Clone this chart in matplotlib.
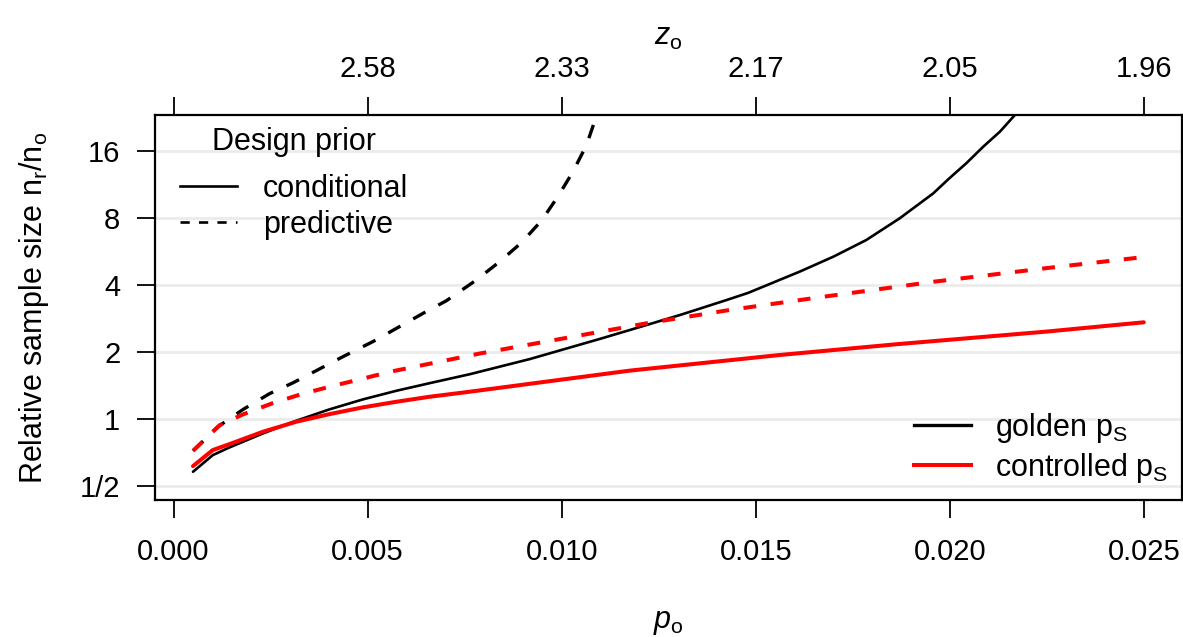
import numpy as np
import matplotlib.pyplot as plt
from matplotlib.lines import Line2D

plt.rcParams['font.family'] = ['Liberation Sans', 'DejaVu Sans']
plt.rcParams['mathtext.fontset'] = 'custom'
plt.rcParams['mathtext.rm'] = 'Liberation Sans'
plt.rcParams['mathtext.it'] = 'Liberation Sans:italic'
plt.rcParams['font.size'] = 22

# golden p_S, conditional design prior
p_gold_cond = [0.0005, 0.00101, 0.00144, 0.0023, 0.00316, 0.00402, 0.00488, 0.00574,
               0.0066, 0.00763, 0.00918, 0.01098, 0.01175, 0.01304, 0.01424, 0.01481,
               0.01613, 0.017, 0.01785, 0.01871, 0.01957, 0.02, 0.02043, 0.02086,
               0.02129, 0.02168]
n_gold_cond = [0.58, 0.689, 0.746, 0.862, 0.983, 1.106, 1.226, 1.34,
               1.45, 1.59, 1.86, 2.29, 2.51, 2.93, 3.42, 3.69,
               4.59, 5.36, 6.37, 7.97, 10.3, 12.1, 14.1, 16.7,
               19.5, 23.2]

# golden p_S, predictive design prior
p_gold_pred = [0.0005, 0.00114, 0.00179, 0.00247, 0.00308, 0.00436, 0.00514, 0.00582,
               0.00651, 0.00703, 0.0078, 0.0084, 0.00896, 0.00948, 0.0099, 0.01029,
               0.01064, 0.01089]
n_gold_pred = [0.72, 0.923, 1.105, 1.30, 1.456, 1.905, 2.23, 2.60,
               3.04, 3.40, 4.21, 5.09, 6.19, 7.78, 9.97, 12.9,
               17.0, 22.8]

# controlled p_S, conditional design prior
p_ctrl_cond = [0.0005, 0.00101, 0.00144, 0.0023, 0.00316, 0.00402, 0.00488, 0.00574,
               0.0066, 0.00763, 0.01175, 0.01562, 0.01865, 0.02248, 0.025]
n_ctrl_cond = [0.615, 0.726, 0.772, 0.877, 0.973, 1.053, 1.129, 1.196,
               1.26, 1.327, 1.65, 1.94, 2.17, 2.47, 2.72]

# controlled p_S, predictive design prior
p_ctrl_pred = [0.0005, 0.00119, 0.00179, 0.00256, 0.00333, 0.00411, 0.00488, 0.00557,
               0.00789, 0.01003, 0.01218, 0.01433, 0.01673, 0.0196, 0.02248, 0.025]
n_ctrl_pred = [0.72, 0.94, 1.05, 1.18, 1.30, 1.41, 1.52, 1.63,
               1.97, 2.30, 2.69, 3.09, 3.54, 4.14, 4.76, 5.34]

x_ticks = [0.0, 0.005, 0.010, 0.015, 0.020, 0.025]
x_labels = ['0.000', '0.005', '0.010', '0.015', '0.020', '0.025']
z_labels = ['', '2.58', '2.33', '2.17', '2.05', '1.96']
y_ticks = [0.5, 1, 2, 4, 8, 16]
y_labels = ['1/2', '1', '2', '4', '8', '16']

fig = plt.figure(figsize=(11.83, 6.37), dpi=100)
ax = fig.add_axes([0.131, 0.215, 0.868, 0.6045])

for yt in y_ticks:
    ax.axhline(yt, color='#ebebeb', lw=2, zorder=0)

ax.plot(p_gold_cond, n_gold_cond, color='black', lw=1.9, solid_capstyle='round')
ax.plot(p_gold_pred, n_gold_pred, color='black', lw=2.4, ls=(0, (4.2, 4.4)))
ax.plot(p_ctrl_cond, n_ctrl_cond, color='red', lw=2.9, solid_capstyle='round')
ax.plot(p_ctrl_pred, n_ctrl_pred, color='red', lw=2.9, ls=(0, (3.2, 3.6)))

ax.set_yscale('log', base=2)
ax.set_xlim(-0.00048, 0.02598)
ax.set_ylim(0.433, 23.2)
ax.set_yticks(y_ticks)
ax.set_yticklabels(y_labels)
ax.minorticks_off()
ax.set_xticks(x_ticks)
ax.set_xticklabels(x_labels)
ax.tick_params(length=13, width=1.3, pad=12, direction='out', labelsize=21)
ax.tick_params(axis='x', pad=14)
for s in ax.spines.values():
    s.set_linewidth(1.6)

ax.set_xlabel('$p_\\mathrm{o}$', labelpad=30, fontsize=22)
ax.set_ylabel('Relative sample size n$_\\mathrm{r}$/n$_\\mathrm{o}$', labelpad=21, fontsize=22)

top = ax.twiny()
top.set_xlim(ax.get_xlim())
top.set_xticks(x_ticks)
top.set_xticklabels(z_labels)
top.tick_params(length=13, width=1.3, pad=10, direction='out', labelsize=21)
top.set_xlabel('$z_\\mathrm{o}$', labelpad=7, fontsize=22)
for s in top.spines.values():
    s.set_visible(False)

leg1 = ax.legend(handles=[Line2D([], [], color='black', lw=1.9),
                          Line2D([], [], color='black', lw=1.9, ls=(0, (3.5, 3.5)))],
                 labels=['conditional', 'predictive'], title='Design prior',
                 loc='upper left', bbox_to_anchor=(0.0127, 1.0), borderaxespad=0,
                 frameon=False, handlelength=1.85, handletextpad=0.85,
                 labelspacing=0.2, fontsize=22, title_fontsize=22)
leg1._legend_box.sep = 12
ax.add_artist(leg1)
ax.legend(handles=[Line2D([], [], color='black', lw=2.4),
                   Line2D([], [], color='red', lw=2.9)],
          labels=['golden p$_\\mathrm{S}$', 'controlled p$_\\mathrm{S}$'],
          loc='lower right', bbox_to_anchor=(0.999, 0.008), borderaxespad=0,
          frameon=False, handlelength=1.85, handletextpad=0.8,
          labelspacing=0.2, fontsize=22)

fig.savefig('out.png', dpi=100)
